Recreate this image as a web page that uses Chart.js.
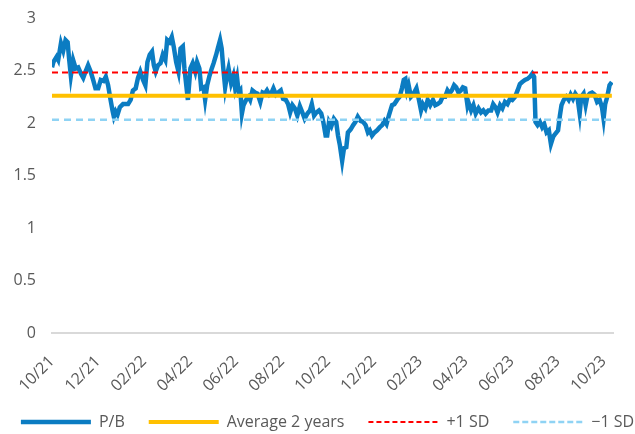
<!DOCTYPE html>
<html>
<head>
<meta charset="utf-8">
<script src="https://cdn.jsdelivr.net/npm/chart.js@4.4.0/dist/chart.umd.min.js"></script>
<style>
  body { margin: 0; background: #fff; }
</style>
</head>
<body>
<canvas id="chart" width="635" height="434"></canvas>
<script>
// tick labels every 2 months, starting 10/21
const tickLabels = ["10/21", "12/21", "02/22", "04/22", "06/22", "08/22", "10/22",
  "12/22", "02/23", "04/23", "06/23", "08/23", "10/23"];

// months since start of Oct 2021
const months = [
  0.00, 0.06, 0.20, 0.27, 0.39, 0.49, 0.59, 0.68, 0.74, 0.82, 0.92, 1.03, 1.14, 1.26, 1.36, 1.46,
  1.57, 1.68, 1.79, 1.89, 2.01, 2.12, 2.24, 2.34, 2.44, 2.54, 2.63, 2.69, 2.77, 2.85, 2.95, 3.09,
  3.31, 3.42, 3.52, 3.64, 3.74, 3.84, 3.96, 4.06, 4.15, 4.25, 4.35, 4.43, 4.51, 4.61, 4.72, 4.82,
  4.93, 5.01, 5.11, 5.21, 5.30, 5.40, 5.50, 5.59, 5.69, 5.76, 5.91,
  6.02, 6.12, 6.23, 6.31, 6.41, 6.49, 6.59, 6.66, 6.75, 6.85, 6.95, 7.03, 7.14, 7.21, 7.31, 7.38,
  7.45, 7.53, 7.61, 7.68, 7.79, 7.89, 7.96, 8.05, 8.12, 8.19, 8.26, 8.33, 8.44, 8.55, 8.62, 8.72,
  8.83, 8.94, 9.06, 9.16, 9.26, 9.35, 9.45, 9.55, 9.63, 9.74, 9.84, 9.95, 10.05, 10.17, 10.27, 10.36,
  10.46, 10.56, 10.67, 10.78, 10.89, 10.99, 11.11, 11.22, 11.30, 11.40, 11.50, 11.61, 11.71, 11.80,
  11.90, 11.97,
  12.05, 12.15, 12.26, 12.36, 12.44, 12.52, 12.62, 12.70, 12.80, 12.87, 12.99, 13.10, 13.20, 13.30,
  13.42, 13.53, 13.64, 13.74, 13.82, 13.92, 14.03, 14.14, 14.26, 14.36, 14.46, 14.55, 14.65, 14.72,
  14.79, 14.89, 15.01, 15.12, 15.22, 15.30, 15.37, 15.44, 15.51, 15.61, 15.73, 15.85, 15.95, 16.05,
  16.13, 16.24, 16.34, 16.45, 16.57, 16.67, 16.77, 16.89, 16.99, 17.10, 17.20, 17.29, 17.39, 17.49,
  17.58, 17.68, 17.78, 17.87, 17.97, 18.07,
  18.11, 18.23, 18.33, 18.43, 18.55, 18.66, 18.76, 18.86, 18.98, 19.10, 19.19, 19.29, 19.38, 19.49,
  19.59, 19.70, 19.81, 19.92, 20.02, 20.14, 20.25, 20.35, 20.45, 20.57, 20.68, 20.79, 20.89, 20.97,
  21.03, 21.12, 21.22, 21.32, 21.41, 21.51, 21.61, 21.70, 21.80, 21.90, 22.01, 22.09, 22.16, 22.26,
  22.37, 22.47, 22.56, 22.66, 22.76, 22.85, 22.95, 23.02, 23.12, 23.21, 23.28, 23.39, 23.49, 23.60,
  23.71, 23.82, 23.92, 23.99, 24.06, 24.15, 24.25, 24.35
];

const pbValues = [
  2.53, 2.58, 2.63, 2.60, 2.76, 2.69, 2.79, 2.77, 2.62, 2.45, 2.60, 2.52, 2.53, 2.47, 2.43, 2.49,
  2.55, 2.49, 2.41, 2.33, 2.33, 2.41, 2.40, 2.44, 2.36, 2.23, 2.12, 2.06, 2.11, 2.08, 2.15, 2.18,
  2.18, 2.22, 2.31, 2.33, 2.43, 2.49, 2.41, 2.36, 2.58, 2.65, 2.68, 2.55, 2.49, 2.55, 2.57, 2.65,
  2.60, 2.79, 2.77, 2.82, 2.72, 2.58, 2.49, 2.71, 2.73, 2.52, 2.22,
  2.52, 2.57, 2.49, 2.58, 2.52, 2.33, 2.34, 2.22, 2.36, 2.45, 2.52, 2.57, 2.65, 2.71, 2.79, 2.71,
  2.52, 2.34, 2.45, 2.52, 2.38, 2.45, 2.34, 2.43, 2.29, 2.31, 2.09, 2.17, 2.22, 2.25, 2.22, 2.31,
  2.29, 2.28, 2.20, 2.29, 2.28, 2.31, 2.27, 2.29, 2.33, 2.27, 2.29, 2.31, 2.23, 2.22, 2.18, 2.10,
  2.17, 2.14, 2.07, 2.16, 2.10, 2.04, 2.09, 2.12, 2.18, 2.07, 2.10, 2.12, 2.09, 2.01,
  1.88, 1.88,
  2.01, 1.97, 2.04, 2.01, 1.88, 1.79, 1.64, 1.76, 1.77, 1.91, 1.94, 1.98, 2.01, 2.06,
  2.02, 2.01, 1.98, 1.91, 1.93, 1.88, 1.91, 1.93, 1.96, 1.98, 2.02, 1.99, 2.07, 2.12,
  2.17, 2.18, 2.22, 2.25, 2.33, 2.41, 2.42, 2.31, 2.36, 2.25, 2.28, 2.33, 2.23, 2.12,
  2.18, 2.14, 2.22, 2.17, 2.22, 2.17, 2.18, 2.20, 2.25, 2.25, 2.31, 2.28, 2.31, 2.36,
  2.34, 2.29, 2.31, 2.34, 2.33, 2.17,
  2.20, 2.12, 2.17, 2.09, 2.14, 2.10, 2.12, 2.09, 2.12, 2.12, 2.18, 2.15, 2.10, 2.17,
  2.14, 2.20, 2.18, 2.23, 2.22, 2.25, 2.31, 2.37, 2.39, 2.41, 2.42, 2.44, 2.47, 2.44,
  2.01, 1.98, 2.01, 1.96, 1.99, 1.91, 1.93, 1.80, 1.87, 1.90, 1.93, 2.07, 2.17, 2.22,
  2.25, 2.22, 2.27, 2.23, 2.28, 2.25, 2.09, 2.25, 2.28, 2.17, 2.25, 2.28, 2.29, 2.27,
  2.20, 2.22, 2.15, 2.04, 2.18, 2.25, 2.36, 2.39
];

const average2y = 2.26;
const plusOneSd = 2.48;
const minusOneSd = 2.03;

const FONT = "'Open Sans', sans-serif";
const GREY = "#595959";

const firstMonth = months[0];
const lastMonth = months[months.length - 1];

function flatLine(v) {
  return [{ x: firstMonth, y: v }, { x: lastMonth, y: v }];
}

// legend with point style takes the point's style, so put the line's dash/width back
function legendLabels(chart) {
  const items = Chart.defaults.plugins.legend.labels.generateLabels(chart);
  return items.map((item) => {
    const ds = chart.data.datasets[item.datasetIndex];
    item.lineDash = ds.legendDash || [];
    item.lineWidth = ds.borderWidth;
    item.strokeStyle = ds.borderColor;
    return item;
  });
}

const ctx = document.getElementById("chart");

new Chart(ctx, {
  type: "line",
  data: {
    datasets: [
      {
        label: "P/B",
        data: months.map((m, i) => ({ x: m, y: pbValues[i] })),
        borderColor: "#0b7cc2",
        backgroundColor: "#0b7cc2",
        borderWidth: 4.5,
        order: 4
      },
      {
        label: "Average 2 years",
        data: flatLine(average2y),
        borderColor: "#ffc000",
        backgroundColor: "#ffc000",
        borderWidth: 4,
        order: 3
      },
      {
        label: "+1 SD",
        data: flatLine(plusOneSd),
        borderColor: "#ff0000",
        backgroundColor: "#ff0000",
        borderWidth: 2,
        borderDash: [6, 4],
        legendDash: [5, 3],
        order: 2
      },
      {
        label: "\u22121 SD",
        data: flatLine(minusOneSd),
        borderColor: "#8fd3f4",
        backgroundColor: "#8fd3f4",
        borderWidth: 2.5,
        borderDash: [7, 5],
        legendDash: [6, 3],
        order: 1
      }
    ]
  },
  options: {
    responsive: false,
    animation: false,
    // negative side padding gives the legend room for one row
    layout: { padding: { left: -5, right: -25, top: 0, bottom: -6 } },
    elements: {
      point: { radius: 0 },
      line: { tension: 0 }
    },
    scales: {
      x: {
        type: "linear",
        min: 0,
        max: 24.4,
        grid: { display: false, drawTicks: false },
        border: { display: true, color: "#d9d9d9", width: 2 },
        afterBuildTicks: (axis) => {
          axis.ticks = tickLabels.map((l, i) => ({ value: i * 2 }));
        },
        afterFit: (axis) => {
          axis.paddingRight = 22;
          axis.height = 57;
        },
        ticks: {
          autoSkip: false,
          maxRotation: 45,
          minRotation: 45,
          padding: 19,
          color: GREY,
          font: { family: FONT, size: 16 },
          callback: (value) => tickLabels[Math.round(value / 2)]
        }
      },
      y: {
        min: 0,
        max: 3,
        grid: { display: false, drawTicks: false },
        border: { display: false },
        afterFit: (axis) => {
          axis.width = 57;
          axis.paddingTop = 18;
        },
        ticks: {
          stepSize: 0.5,
          padding: 16,
          color: GREY,
          font: { family: FONT, size: 16 },
          callback: (value) => String(value)
        }
      }
    },
    plugins: {
      tooltip: { enabled: false },
      legend: {
        position: "bottom",
        reverse: true,
        labels: {
          usePointStyle: true,
          pointStyle: "line",
          pointStyleWidth: 70,
          boxHeight: 16,
          padding: 24,
          color: GREY,
          font: { family: FONT, size: 16 },
          generateLabels: legendLabels
        }
      }
    }
  }
});
</script>
</body>
</html>
